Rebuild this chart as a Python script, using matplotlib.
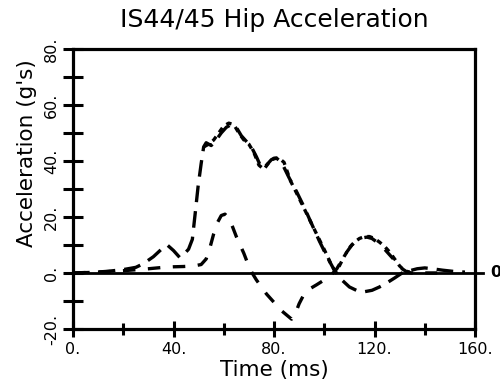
import matplotlib
matplotlib.use("Agg")
import matplotlib.pyplot as plt
from matplotlib.ticker import MultipleLocator, FuncFormatter

# ---------------------------------------------------------------------
# Data (time in ms, acceleration in g's)
# ---------------------------------------------------------------------

# long dashed trace
time_a = [0, 8, 14, 20, 25, 28, 32, 35, 37.5, 40, 42.5, 45, 46, 47.5, 48.6,
          49.8, 51, 52, 53, 55, 57, 59, 61, 63, 65, 67, 69, 71, 73, 75, 77,
          79, 81, 83, 86, 89, 92, 95, 98, 101, 104, 107, 110, 113, 116, 119,
          122, 125, 128, 131, 134, 137, 140, 143, 147, 151, 156]
acc_a = [0, 0.2, 0.6, 1.2, 2, 3.3, 5.8, 8.3, 10, 8, 5.5, 7.5, 8.5, 12, 21,
         31, 39, 45, 46.5, 45.5, 47.5, 50, 52, 53, 52, 49, 47, 45, 41.5, 37.5,
         38.5, 40.5, 41, 39.5, 34, 29, 23.5, 17.5, 11.5, 6, 1, -2.5, -5, -6.3,
         -6.7, -6.2, -5, -3.5, -1.8, 0, 0.8, 1.5, 1.8, 1.5, 1, 0.6, 0.3]

# medium dashed trace
time_b = [0, 10, 20, 30, 36, 40, 44, 48, 51, 53, 54.5, 56, 57.5, 59, 60.5,
          62, 63.5, 65, 66.5, 68, 69.5, 71.3, 73, 75, 77, 79, 81, 83, 85, 87,
          88.5, 90, 92, 94, 97, 100, 103, 105, 107, 109, 111, 113, 115, 117,
          119, 121, 123, 125, 127, 129, 131, 133, 136, 140, 145]
acc_b = [0, 0.3, 0.8, 1.5, 2, 2.2, 2.3, 2.5, 3, 5, 9, 14, 18, 20.5, 21,
         19.5, 16.5, 13, 10, 7, 3.5, 0, -2.5, -5, -7.5, -9.5, -11.5, -13.5,
         -15, -16.5, -14.5, -11, -7.5, -5.8, -4.2, -2.5, -0.5, 1.5, 4.5, 7.5,
         10, 11.5, 12.5, 12.8, 12.3, 11, 9.5, 7.5, 5.5, 3.5, 1.5, 0.3, -0.2,
         0, 0]

# short dashed trace
time_c = [52, 54, 56, 58, 60, 62, 64, 66, 68, 70, 72, 74, 76, 78, 80, 82,
          84, 86.5, 89, 92, 95, 98, 101, 103, 104.5, 106, 108, 110, 112, 114,
          116, 118, 120, 122, 124, 126, 128, 130, 132, 134]
acc_c = [45, 46, 47.5, 50, 52.5, 53.5, 53, 50, 47.5, 46, 43, 38.5, 37, 39.5,
         41, 41, 39.5, 33, 28.5, 23, 17.5, 12, 6.5, 2.5, 0.5, 2.5, 6, 9, 11,
         12.3, 13, 13, 12.3, 11, 9.5, 7.5, 5, 2.5, 0.8, 0.3]

x_major = [0, 40, 80, 120, 160]
y_major = [-20, 0, 20, 40, 60, 80]

title_text = "IS44/45 Hip Acceleration"
x_label = "Time (ms)"
y_label = "Acceleration (g's)"

# ---------------------------------------------------------------------
# Plot
# ---------------------------------------------------------------------

plt.rcParams['font.family'] = ['DejaVu Sans']
plt.rcParams['lines.scale_dashes'] = False

fig = plt.figure(figsize=(5, 3.87), dpi=100)
ax = fig.add_axes([0.146, 0.150, 0.804, 0.7235])

line_kw = dict(color='black', lw=2.4, dash_capstyle='butt')
ax.plot(time_a, acc_a, dashes=(12.0, 6.5), **line_kw)
ax.plot(time_b, acc_b, dashes=(9.0, 9.0), **line_kw)
ax.plot(time_c, acc_c, dashes=(4.0, 3.8), **line_kw)

# zero line runs past the frame with its own label
ax.axhline(0, xmin=0, xmax=1.02, color='black', lw=2.0, clip_on=False)
ax.text(1.037, 0, "0", transform=ax.get_yaxis_transform(), ha='left',
        va='center', fontsize=11.5, fontweight='bold')

ax.set_xlim(0, 160)
ax.set_ylim(-20, 80)
ax.set_xticks(x_major)
ax.set_yticks(y_major)
ax.xaxis.set_minor_locator(MultipleLocator(20))
ax.yaxis.set_minor_locator(MultipleLocator(10))
fmt = FuncFormatter(lambda v, pos: f"{v:.0f}.")
ax.xaxis.set_major_formatter(fmt)
ax.yaxis.set_major_formatter(fmt)

for side in ax.spines.values():
    side.set_linewidth(2.3)

ax.tick_params(axis='x', which='major', direction='inout', length=11.5,
               width=2.2, labelsize=11.5, pad=4)
ax.tick_params(axis='x', which='minor', direction='inout', length=8.5,
               width=2.2)
ax.tick_params(axis='y', which='both', direction='inout', length=14,
               width=2.2, labelsize=11.5, pad=3)
plt.setp(ax.get_yticklabels(), rotation=90, va='center')

ax.set_xlabel(x_label, fontsize=15.5)
ax.xaxis.set_label_coords(0.5, -0.11)
ax.set_ylabel(y_label, fontsize=15.5)
ax.yaxis.set_label_coords(-0.09, 0.629)

fig.text(274 / 500, 1 - 26.7 / 387, title_text, ha='center', va='baseline',
         fontsize=18)

fig.savefig("out.png", dpi=100)
